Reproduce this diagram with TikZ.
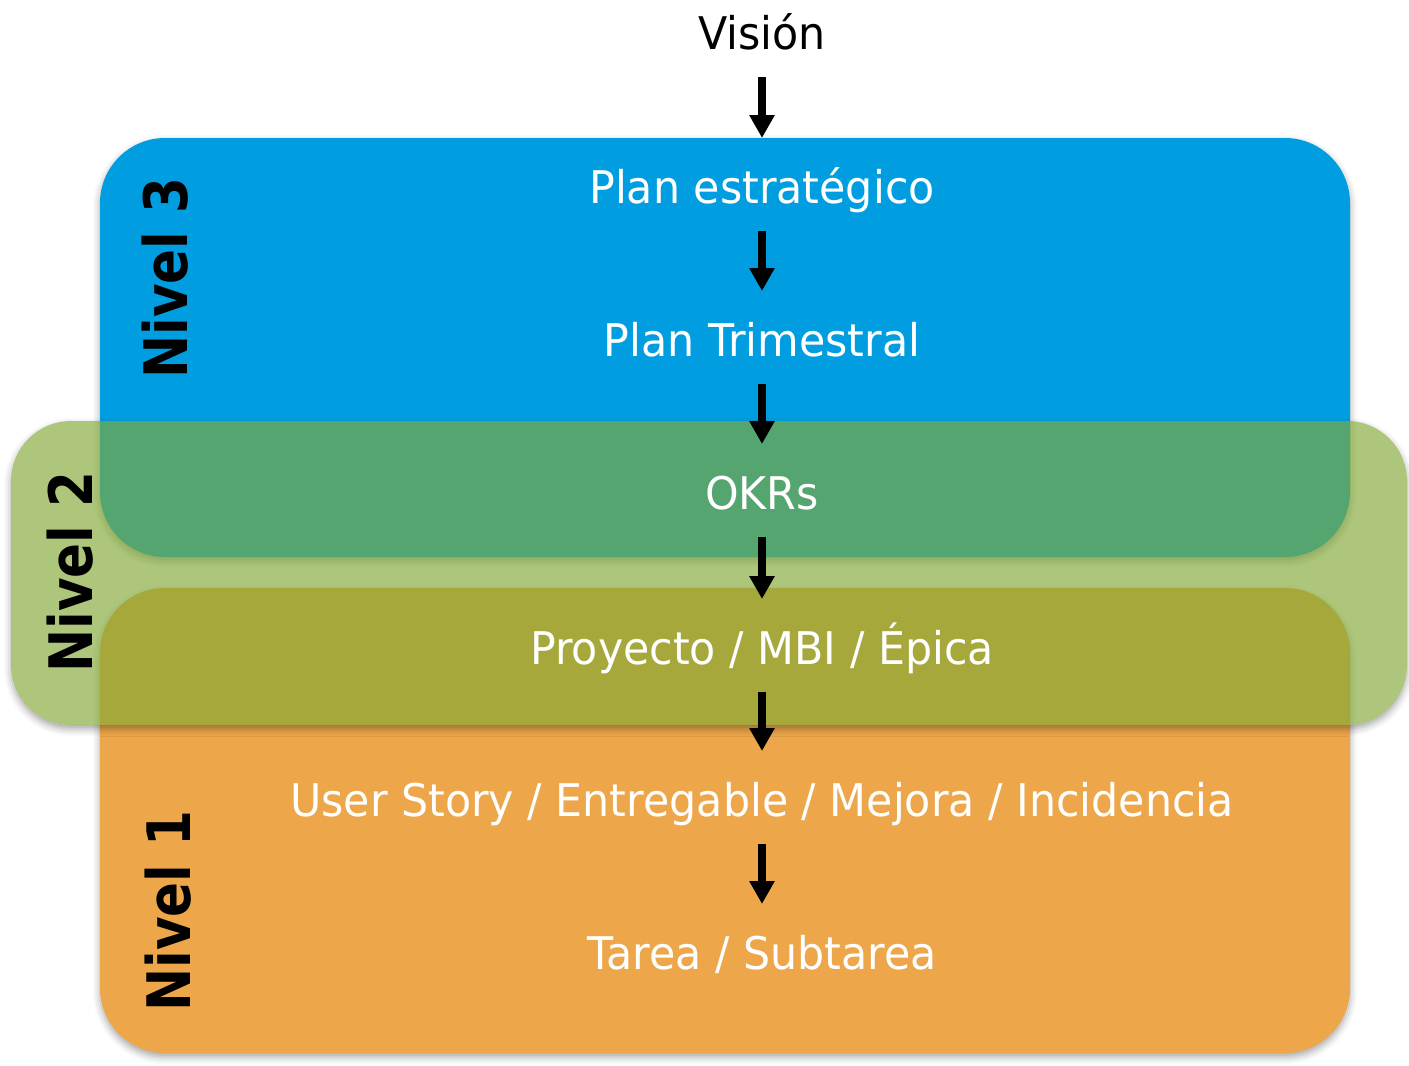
\documentclass[tikz,border=0pt]{standalone}
\usepackage{fontspec}
\setmainfont{DejaVu Sans}[FakeStretch=0.95]
\newfontfamily\lvlfont{DejaVu Sans}[FakeStretch=0.86]
\usetikzlibrary{arrows.meta,shadows.blur}
\definecolor{bluebox}{RGB}{0,158,224}
\definecolor{orangebox}{RGB}{237,167,74}
\definecolor{greenbox}{RGB}{130,169,54}
\tikzset{
  lvlbox/.style={rounded corners=65pt, inner sep=0pt, draw=none},
  boxshadow/.style={blur shadow={shadow xshift=0pt, shadow yshift=-4pt, shadow blur radius=7pt, shadow opacity=35}},
  item/.style={anchor=base, text=white, font=\fontsize{45}{54}\selectfont, inner sep=0pt},
  lvl/.style={anchor=base, rotate=90, font=\lvlfont\bfseries\fontsize{60}{70}\selectfont, inner sep=0pt},
  arr/.style={line width=8pt, -{Triangle[width=24pt,length=23pt]}, shorten <=28pt, shorten >=65pt}
}
\begin{document}
\begin{tikzpicture}[x=1pt,y=-1pt]
\useasboundingbox (0,0) rectangle (1409,1066);
% level 3 and level 1 boxes
\node[lvlbox, boxshadow, fill=bluebox, minimum width=1250pt, minimum height=419pt] (n3box) at (725,347.5) {};
\node[lvlbox, boxshadow, fill=orangebox, minimum width=1250pt, minimum height=465pt] (n1box) at (725,820.5) {};
% shadow of the level 2 box, only outside it
\begin{scope}
  \clip (0,0) -- (1409,0) -- (1409,1066) -- (0,1066) -- cycle
        [rounded corners=60pt] (11,421) -- (11,725) -- (1407,725) -- (1407,421) -- cycle;
  \node[lvlbox, rounded corners=60pt, boxshadow, minimum width=1396pt, minimum height=304pt] (n2shadow) at (709,573) {};
\end{scope}
\node[lvlbox, rounded corners=60pt, fill=greenbox, fill opacity=0.66, minimum width=1396pt, minimum height=304pt] (n2box) at (709,573) {};
% items
\node[item, text=black] (vision) at (762,49) {Visión};
\node[item] (plan) at (762,203) {Plan estratégico};
\node[item] (trim) at (762,356) {Plan Trimestral};
\node[item] (okr) at (762,509) {OKRs};
\node[item] (proy) at (762,664) {Proyecto / MBI / Épica};
\node[item] (user) at (762,816) {User Story / Entregable / Mejora / Incidencia};
\node[item] (tarea) at (762,969) {Tarea / Subtarea};
% arrows
\draw[arr] (vision.base) -- (plan.base);
\draw[arr] (plan.base) -- (trim.base);
\draw[arr] (trim.base) -- (okr.base);
\draw[arr] (okr.base) -- (proy.base);
\draw[arr] (proy.base) -- (user.base);
\draw[arr] (user.base) -- (tarea.base);
% level labels
\node[lvl] (l3) at (187,278) {Nivel 3};
\node[lvl] (l2) at (92,572) {Nivel 2};
\node[lvl] (l1) at (190,911) {Nivel 1};
\end{tikzpicture}
\end{document}
